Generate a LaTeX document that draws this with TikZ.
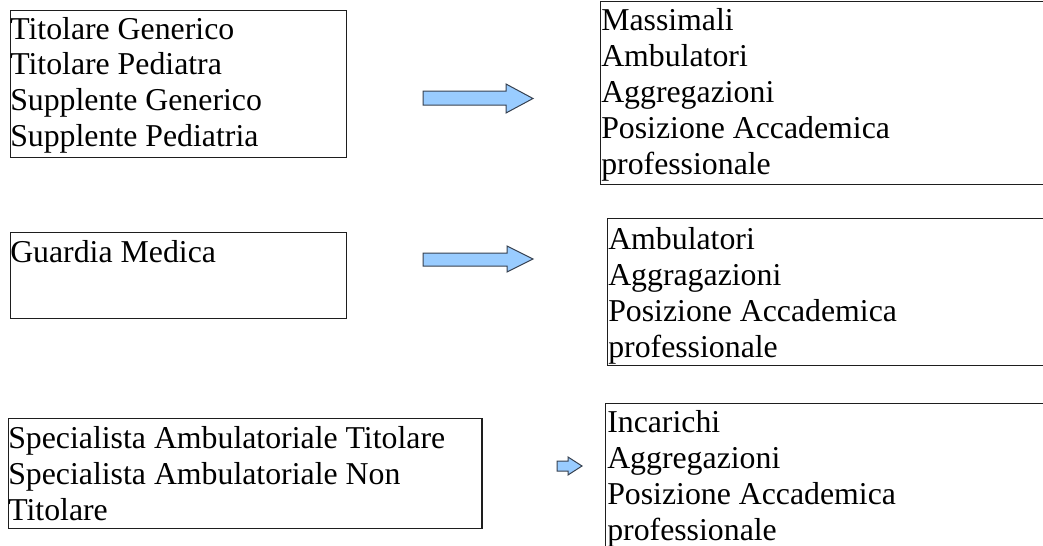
\documentclass[tikz,border=0pt]{standalone}
\usepackage{fontspec}
\setmainfont{Liberation Serif}
\definecolor{arrowfill}{RGB}{153,204,255}
\definecolor{arrowline}{RGB}{55,65,80}
\definecolor{boxline}{RGB}{30,30,30}
\begin{document}
\begin{tikzpicture}[x=0.75pt,y=-0.75pt]
\tikzset{
  box/.style={draw=boxline, line width=0.9pt, inner sep=0pt, anchor=north west},
  txt/.style={anchor=base west, inner sep=0pt, font=\fontsize{23.85pt}{27pt}\selectfont},
  blockarrow/.style={fill=arrowfill, draw=arrowline, line width=0.75pt, line join=miter}
}
\useasboundingbox (0,0) rectangle (1043,546);
\clip (0,0) rectangle (1043,546);
% left boxes
\node[box, minimum width=252pt, minimum height=110.25pt] (b1) at (10,10) {};
\node[box, minimum width=252pt, minimum height=64.5pt] (b2) at (10,232) {};
\node[box, minimum width=355pt, minimum height=82.5pt] (b3) at (8,418) {};
% right boxes
\node[box, minimum width=345pt, minimum height=137.6pt] (r1) at (600,0.6) {};
\node[box, minimum width=339.75pt, minimum height=110.25pt] (r2) at (607,218) {};
\node[box, minimum width=341.25pt, minimum height=125.25pt] (r3) at (605,403) {};
% texts
\node[txt] (t1) at (10,39) {\parbox[t]{500pt}{Titolare Generico\\Titolare Pediatra\\Supplente Generico\\Supplente Pediatria}};
\node[txt] (t2) at (10,262) {\parbox[t]{500pt}{Guardia Medica}};
\node[txt] (t3) at (8,448) {\parbox[t]{500pt}{Specialista Ambulatoriale Titolare\\Specialista Ambulatoriale Non\\Titolare}};
\node[txt] (u1) at (601,31) {\parbox[t]{500pt}{Massimali\\Ambulatori\\Aggregazioni\\Posizione Accademica\\professionale}};
\node[txt] (u2) at (608,249) {\parbox[t]{500pt}{Ambulatori\\Aggragazioni\\Posizione Accademica\\professionale}};
\node[txt] (u3) at (607,432) {\parbox[t]{500pt}{Incarichi\\Aggregazioni\\Posizione Accademica\\professionale}};
% block arrows
\draw[blockarrow] (423,91) -- (506,91) -- (506,84) -- (533,98.5) -- (506,113) -- (506,105) -- (423,105) -- cycle;
\draw[blockarrow] (423,253) -- (507,253) -- (507,246) -- (533,259) -- (507,272) -- (507,266) -- (423,266) -- cycle;
\draw[blockarrow] (557,461) -- (568,461) -- (568,457) -- (582,466) -- (568,475) -- (568,471) -- (557,471) -- cycle;
\end{tikzpicture}
\end{document}
